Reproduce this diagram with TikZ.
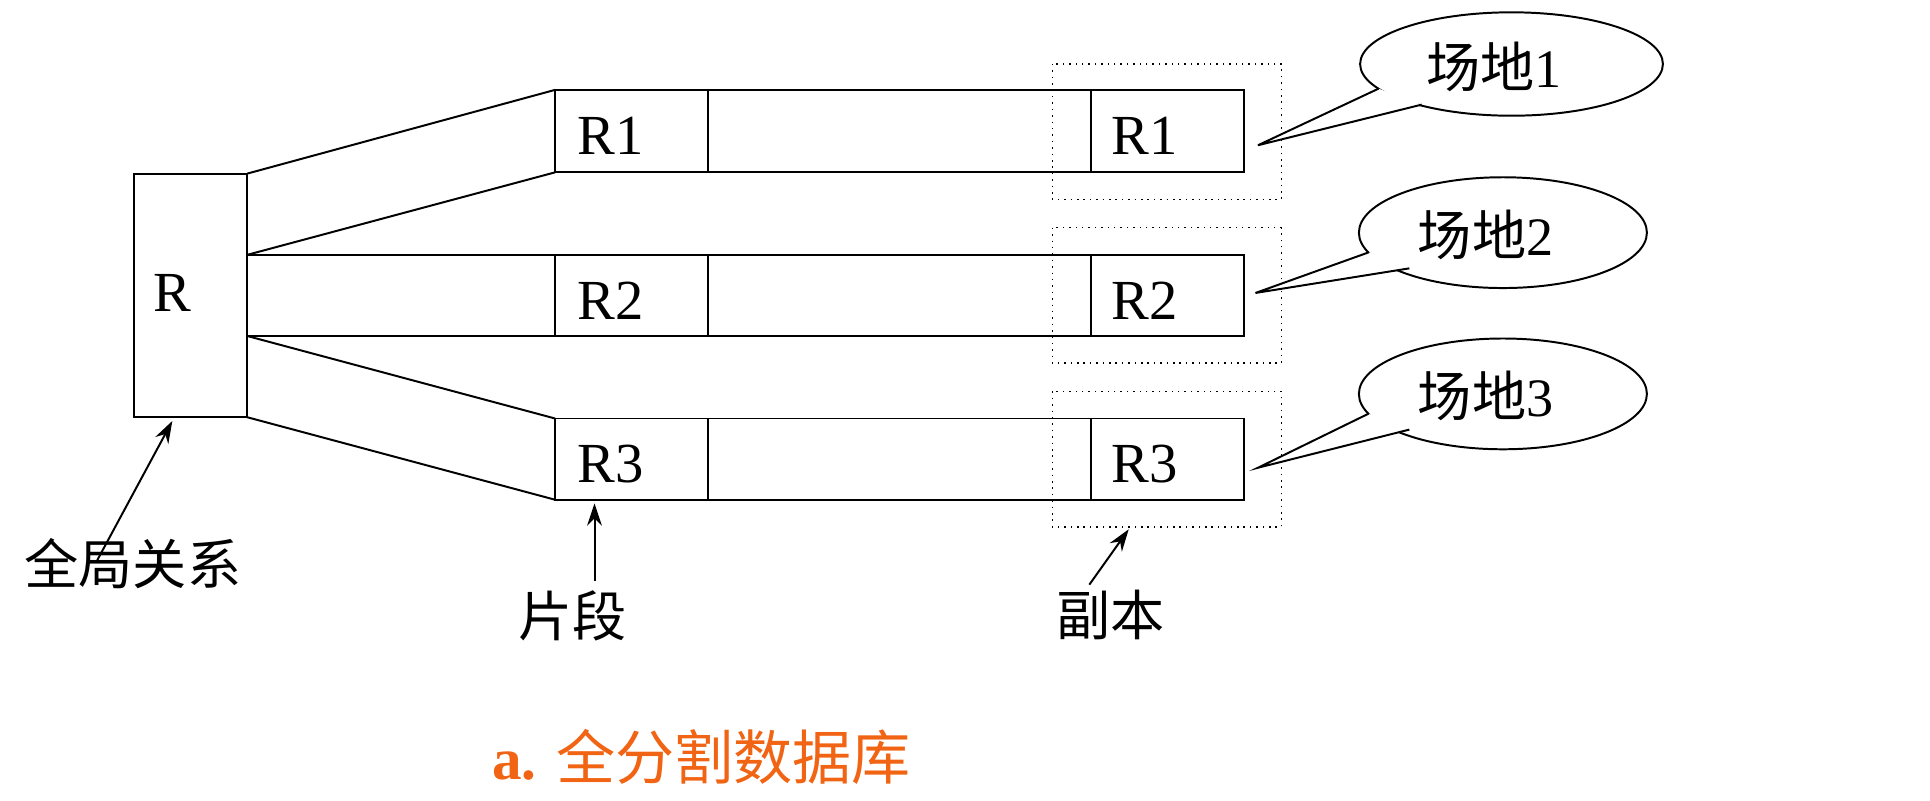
\documentclass[tikz,border=0pt]{standalone}
\usepackage{fontspec}
\setmainfont{Liberation Serif}
\newfontfamily\cjk{Noto Sans CJK SC}
\usetikzlibrary{arrows.meta}
\definecolor{capor}{RGB}{240,100,20}
\begin{document}
\begin{tikzpicture}[x=0.5pt,y=-0.5pt,
  box/.style={draw,line width=0.8pt},
  dotbox/.style={draw,dotted,line width=0.6pt},
  lbl/.style={font=\fontsize{23}{26}\selectfont,inner sep=0pt},
  cl/.style={font=\cjk\fontsize{22}{26}\selectfont,inner sep=0pt},
  arr/.style={-{Stealth[length=9pt,width=6pt]},line width=0.8pt},
  ln/.style={line width=0.8pt}]
\useasboundingbox (0,0) rectangle (1568,650);
% global relation
\draw[box] (109,141) rectangle (201,339);
\node[lbl] (R) at (140,238) {R};
\coordinate (Rt) at (201,141); \coordinate (Ra) at (201,207);
\coordinate (Rb) at (201,273); \coordinate (Rd) at (201,339);
% rows
\foreach \i/\t/\b in {1/73/140,2/207/273,3/340/406}{
  \draw[box] (451,\t) rectangle (1011,\b);
  \draw[ln] (575,\t) -- (575,\b);
  \draw[ln] (886,\t) -- (886,\b);
  \node[lbl] (f\i) at (496,{(\t+\b)/2+4}) {R\i};
  \node[lbl] (c\i) at (930,{(\t+\b)/2+4}) {R\i};
  \coordinate (ft\i) at (451,\t); \coordinate (fb\i) at (451,\b);
}
\draw[ln] (Rt) -- (ft1); \draw[ln] (Ra) -- (fb1);
\draw[ln] (Ra) -- (ft2); \draw[ln] (Rb) -- (fb2);
\draw[ln] (Rb) -- (ft3); \draw[ln] (Rd) -- (fb3);
% dotted replica boxes
\draw[dotbox] (855,52) rectangle (1041,162);
\draw[dotbox] (855,185) rectangle (1041,295);
\draw[dotbox] (855,318) rectangle (1041,428);
% callouts
\foreach \i/\cx/\cy/\rx/\ry/\ax/\ay/\bx/\by/\tx/\ty in
  {1/1228/52/123/42/1120/72/1155/85/1022/118,
   2/1221/189/117/45/1112/205/1145/218/1020/238,
   3/1221/320/117/45/1112/336/1145/349/1022/380}{
  \draw[ln] (\cx,\cy) ellipse [x radius=\rx*0.5pt, y radius=\ry*0.5pt];
  \fill[white] (\ax,\ay) -- (\tx,\ty) -- (\bx,\by) -- cycle;
  \draw[ln] (\ax,\ay) -- (\tx,\ty) -- (\bx,\by);
  \node[cl] (s\i) at (\cx-14,\cy+2) {场地\fontspec{Liberation Serif}\i};
}
% labels with arrows
\node[cl] (gl) at (108,458) {全局关系};
\coordinate (gla) at (78,457);
\draw[arr] (gla) -- (140,342);
\node[cl] (pd) at (465,500) {片段};
\coordinate (pda) at (483,472);
\draw[arr] (pda) -- (483,409);
\node[cl] (fb) at (902,500) {副本};
\coordinate (fba) at (885,475);
\draw[arr] (fba) -- (917,430);
% caption
\node[inner sep=0pt,text=capor] (cap) at (570,615)
  {\fontsize{24}{28}\selectfont\textbf{a.} {\cjk 全分割数据库}};
\end{tikzpicture}
\end{document}
